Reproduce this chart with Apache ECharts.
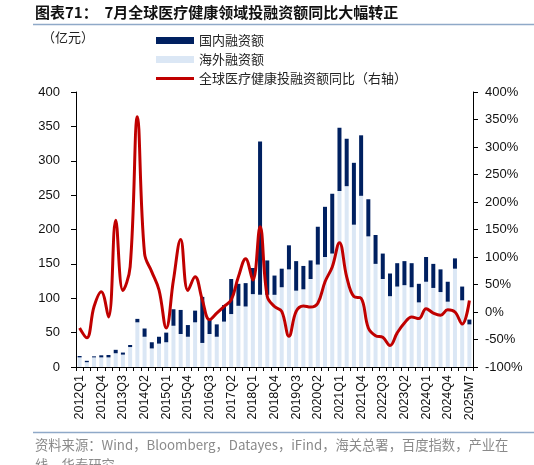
<!DOCTYPE html>
<html>
<head>
<meta charset="utf-8">
<script src="https://cdn.jsdelivr.net/npm/echarts@6/dist/echarts.min.js"></script>
<style>
  html, body { margin: 0; padding: 0; background: #fff; }
  #chart { width: 534px; height: 465px; }
</style>
</head>
<body>
<div id="chart"></div>
<script>
const categories = [
  '2012Q1','2012Q2','2012Q3','2012Q4','2013Q1','2013Q2','2013Q3','2013Q4',
  '2014Q1','2014Q2','2014Q3','2014Q4','2015Q1','2015Q2','2015Q3','2015Q4',
  '2016Q1','2016Q2','2016Q3','2016Q4','2017Q1','2017Q2','2017Q3','2017Q4',
  '2018Q1','2018Q2','2018Q3','2018Q4','2019Q1','2019Q2','2019Q3','2019Q4',
  '2020Q1','2020Q2','2020Q3','2020Q4','2021Q1','2021Q2','2021Q3','2021Q4',
  '2022Q1','2022Q2','2022Q3','2022Q4','2023Q1','2023Q2','2023Q3','2023Q4',
  '2024Q1','2024Q2','2024Q3','2024Q4','2025Q1','2025Q2','2025M7'
];

// 海外融资额 (亿元), bottom of stack
const overseas = [
  14, 7, 14, 14, 14, 20, 18, 29,
  65, 44, 27, 34, 36, 60, 48, 44,
  65, 35, 48, 44, 66, 77, 89, 88,
  106, 105, 105, 105, 116, 142, 111, 113,
  128, 149, 160, 165, 256, 263, 207, 249,
  190, 150, 128, 103, 117, 119, 116, 94,
  124, 115, 109, 95, 143, 97, 62
];

// 国内融资额 (亿元), top of stack
const domestic = [
  2, 2, 1.5, 3, 3.5, 5, 3, 3,
  5, 12, 9, 10, 14, 24, 35, 17,
  17, 67, 22, 18, 24, 51, 32, 34,
  38, 223, 50, 28, 27, 35, 43, 34,
  27, 55, 73, 87, 92, 69, 90, 88,
  54, 42, 37, 33, 34, 35, 35, 27,
  36, 35, 33, 29, 15, 20, 7
];

// 全球医疗健康投融资额同比 (%), right axis
const yoy = [
  -29, -47, 10, 37, -9, 167, 39, 82,
  355, 106, 73, 40, -29, 58, 132, 39,
  64, 22, -14, -2, 10, 22, 64, 97,
  58, 155, 28, 10, 1, -44, 1, 11,
  9, 16, 55, 82, 126, 64, 28, 25,
  -29, -43, -46, -61, -38, -20, -9, -12,
  6, -2, -6, 4, 0, -22, 21
];

const leftTicks = [0, 400, 50];
const rightTicks = [-100, 400, 50];

const cjk = '"Noto Sans CJK SC", sans-serif';
const latin = '"Liberation Sans", Arial, sans-serif';

const chart = echarts.init(document.getElementById('chart'));

const legendText = { fontFamily: cjk, fontSize: 13, color: '#222' };

const option = {
  animation: false,
  backgroundColor: '#ffffff',
  grid: { left: 76, right: 61, top: 92, bottom: 98 },
  legend: [
    {
      orient: 'vertical',
      left: 151,
      top: 29,
      itemWidth: 38,
      itemHeight: 7,
      itemGap: 6,
      icon: 'rect',
      textStyle: legendText,
      data: ['国内融资额', '海外融资额']
    },
    {
      orient: 'vertical',
      left: 151,
      top: 67,
      itemWidth: 38,
      itemHeight: 3,
      icon: 'rect',
      textStyle: legendText,
      data: ['全球医疗健康投融资额同比（右轴）']
    }
  ],
  graphic: [
    {
      type: 'text', left: 35, top: 5,
      style: { text: '图表71：  7月全球医疗健康领域投融资额同比大幅转正', font: 'bold 15px ' + cjk, fill: '#111' }
    },
    {
      type: 'line', shape: { x1: 33, y1: 24.5, x2: 534, y2: 24.5 },
      style: { stroke: '#8fa9c8', lineWidth: 1.5 }
    },
    {
      type: 'text', left: 42, top: 31,
      style: { text: '（亿元）', font: '13px ' + cjk, fill: '#222' }
    },
    {
      type: 'line', shape: { x1: 33, y1: 432.5, x2: 534, y2: 432.5 },
      style: { stroke: '#8fa9c8', lineWidth: 1.5 }
    },
    {
      type: 'text', left: 35, top: 435,
      style: {
        text: '资料来源：Wind，Bloomberg，Datayes，iFind，海关总署，百度指数，产业在\n线，华泰研究',
        font: '13.3px ' + cjk, fill: '#8a8a8a', lineHeight: 20
      }
    }
  ],
  xAxis: {
    type: 'category',
    data: categories,
    boundaryGap: true,
    axisLine: { lineStyle: { color: '#000', width: 1 } },
    axisTick: { show: true, interval: 0, length: 4, lineStyle: { color: '#000' } },
    axisLabel: {
      interval: 2, rotate: 90, margin: 8,
      fontFamily: latin, fontSize: 12.5, color: '#111'
    }
  },
  yAxis: [
    {
      type: 'value',
      min: leftTicks[0], max: leftTicks[1], interval: leftTicks[2],
      splitLine: { show: false },
      axisLine: { show: true, lineStyle: { color: '#000' } },
      axisTick: { show: true, length: 5, lineStyle: { color: '#000' } },
      axisLabel: { margin: 16, fontFamily: latin, fontSize: 13, color: '#111' }
    },
    {
      type: 'value',
      min: rightTicks[0], max: rightTicks[1], interval: rightTicks[2],
      splitLine: { show: false },
      axisLine: { show: true, lineStyle: { color: '#000' } },
      axisTick: { show: true, length: 5, lineStyle: { color: '#000' } },
      axisLabel: { margin: 12, formatter: '{value}%', fontFamily: latin, fontSize: 13, color: '#111' }
    }
  ],
  series: [
    {
      name: '海外融资额',
      type: 'bar',
      stack: 'total',
      barWidth: 4,
      itemStyle: { color: '#dbe7f5' },
      data: overseas
    },
    {
      name: '国内融资额',
      type: 'bar',
      stack: 'total',
      barWidth: 4,
      itemStyle: { color: '#002060' },
      data: domestic
    },
    {
      name: '全球医疗健康投融资额同比（右轴）',
      type: 'line',
      yAxisIndex: 1,
      smooth: 0.4,
      symbol: 'none',
      lineStyle: { color: '#c00000', width: 3 },
      itemStyle: { color: '#c00000' },
      data: yoy
    }
  ]
};

chart.setOption(option);
</script>
</body>
</html>
